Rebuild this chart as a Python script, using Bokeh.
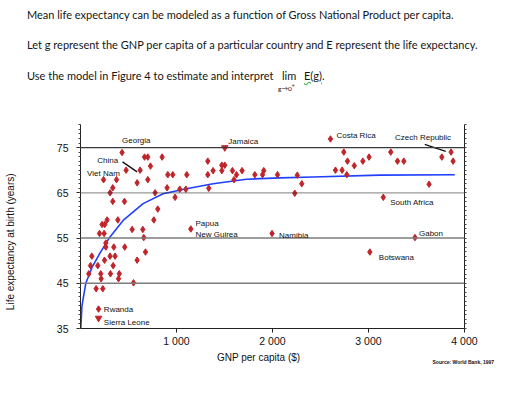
import math
from bokeh.plotting import figure
from bokeh.models import Range1d, FixedTicker, LinearAxis, Span, Label, ColumnDataSource, Title, Div
from bokeh.layouts import column
from bokeh.embed import file_html
from bokeh.resources import INLINE

# ---------------- data ----------------
# labelled countries
country_names = ["Georgia", "China", "Viet Nam", "Jamaica", "Costa Rica", "Czech Republic",
                 "South Africa", "Gabon", "Botswana", "Papua\nNew Guirea", "Namibia",
                 "Rwanda", "Sierra Leone"]
country_gnp = [433, 621, 240, 1503, 2604, 3860, 3154, 3484, 3014, 1149, 1995, 188, 188]
country_life = [73.9, 70.0, 67.9, 75.0, 76.9, 74.0, 64.0, 55.1, 51.9, 57.0, 56.0, 39.3, 37.3]
country_marker = ["diamond", "diamond", "diamond", "inverted_triangle", "diamond", "diamond",
                  "diamond", "diamond", "diamond", "diamond", "diamond", "diamond",
                  "inverted_triangle"]

# other countries
other_gnp = [667, 701, 850, 729, 475, 909, 961, 1107, 375, 590, 701, 336, 308, 777, 902, 985,
             336, 458, 805, 764, 277, 389, 225, 253, 538, 649, 198, 246, 659, 264, 264, 347,
             461, 677, 118, 308, 360, 250, 590, 104, 180, 340, 86, 211, 312, 404, 215, 396,
             163, 232, 552, 1034, 1097, 1326, 1326, 1381, 1472, 1503, 1472, 1336, 1583, 1625,
             1599, 1683, 1816, 1896, 1909, 2052, 2258, 2232, 2305, 2743, 2781, 2656, 2725,
             2774, 2852, 2941, 3006, 3232, 3302, 3368, 3764, 3881, 3631]
other_life = [72.9, 72.9, 72.9, 70.9, 70.0, 69.0, 69.0, 69.0, 67.9, 67.2, 67.9, 66.1, 65.0,
              65.0, 66.1, 64.0, 63.1, 63.1, 61.4, 59.0, 59.0, 59.0, 58.0, 58.0, 56.9, 56.9,
              56.0, 56.0, 55.1, 53.9, 53.0, 53.0, 53.0, 51.9, 51.0, 51.0, 51.0, 50.1, 50.1,
              48.9, 48.9, 48.9, 47.1, 47.1, 47.1, 47.1, 46.0, 46.0, 43.8, 43.8, 45.1, 65.8,
              65.8, 72.0, 69.0, 69.9, 71.1, 71.1, 69.9, 66.0, 69.9, 69.0, 67.9, 69.9, 69.0,
              69.0, 69.9, 69.0, 68.9, 64.9, 67.0, 74.0, 72.0, 70.0, 70.0, 69.0, 71.0, 72.0,
              72.9, 74.0, 72.0, 72.0, 72.9, 72.0, 66.9]

# fitted model curve
curve_gnp = [3, 15, 55, 120, 201, 305, 444, 652, 860, 1104, 1381, 1729, 2076, 2423, 3118, 3899]
curve_life = [35.0, 40.0, 45.0, 48.5, 51.6, 55.2, 58.9, 62.6, 64.8, 65.9, 67.0, 68.0, 68.3,
              68.5, 68.9, 69.0]

x_ticks = [1000, 2000, 3000, 4000]
x_tick_labels = ["1 000", "2 000", "3 000", "4 000"]
y_ticks = [35, 45, 55, 65, 75]

question_lines = [
    "Mean life expectancy can be modeled as a function of Gross National Product per capita.",
    "Let g represent the GNP per capita of a particular country and E represent the life expectancy.",
    "Use the model in Figure 4 to estimate and interpret",
]

# ---------------- layout ----------------
X0, X1, Y0, Y1 = 0, 4000, 35, 80.1
W = 520
DIV_H = 108
FW, FH = 384, 204
BL, BT = 80, 16
H = 386 - DIV_H
PXX = FW / (X1 - X0)
PXY = FH / (Y1 - Y0)

RED = "#c0252b"
FONT = "Liberation Sans"
NB = "\u00a0"

# ---------------- question text ----------------
tops = [8, 38, 69]
spans = "".join(
    f'<span style="position:absolute;left:27px;top:{t}px;white-space:nowrap;">{s}</span>'
    for s, t in zip(question_lines, tops))
spans += ('<span style="position:absolute;left:282px;top:69px;white-space:nowrap;">lim</span>'
          '<span style="position:absolute;left:304px;top:69px;white-space:nowrap;">'
          '<span style="text-decoration:underline wavy #3fae49;">E(g)</span>.</span>'
          '<span style="position:absolute;left:278px;top:82px;font-size:6.5px;line-height:8px;'
          'white-space:nowrap;">g\u21920<sup style="font-size:5px">+</sup></span>')
html = (f'<div style="position:relative;width:{W}px;height:{DIV_H}px;font-family:Lato,sans-serif;'
        f'font-size:11px;line-height:14px;color:#151515;">{spans}</div>')
div = Div(text=html, width=W, height=DIV_H, margin=0)

# ---------------- chart ----------------
p = figure(width=W, height=H, x_range=Range1d(X0, X1), y_range=Range1d(Y0, Y1),
           output_backend="svg", toolbar_location=None, margin=0,
           min_border_left=BL, min_border_right=W - BL - FW,
           min_border_top=BT, min_border_bottom=H - BT - FH)
p.outline_line_color = None
p.xgrid.visible = False
p.ygrid.visible = False
p.background_fill_color = "white"
p.border_fill_color = "white"

# x axis
xa = p.xaxis[0]
xa.ticker = FixedTicker(ticks=x_ticks)
xa.major_label_overrides = {t: l for t, l in zip(x_ticks, x_tick_labels)}
xa.major_tick_out = 4
xa.major_tick_in = 0
xa.minor_tick_out = 0
xa.minor_tick_in = 0
xa.axis_line_color = "#222222"
xa.major_tick_line_color = "#222222"
xa.major_label_text_font = FONT
xa.major_label_text_font_size = "10.5px"
xa.major_label_text_color = "#111111"
xa.major_label_standoff = 2
xa.axis_label = "GNP per capita ($)" + NB * 10
xa.axis_label_text_font = FONT
xa.axis_label_text_font_size = "10px"
xa.axis_label_text_font_style = "normal"
xa.axis_label_text_color = "#111111"
xa.axis_label_standoff = 2

# y axis
ya = p.yaxis[0]
ya.ticker = FixedTicker(ticks=y_ticks, minor_ticks=list(range(35, 81)))
ya.major_tick_out = 4
ya.major_tick_in = 0
ya.minor_tick_out = 2
ya.minor_tick_in = 0
ya.axis_line_color = "#222222"
ya.major_tick_line_color = "#222222"
ya.minor_tick_line_color = "#444444"
ya.major_label_text_font = FONT
ya.major_label_text_font_size = "10.5px"
ya.major_label_text_color = "#111111"
ya.major_label_standoff = 8
ya.axis_label = "Life expectancy at birth (years)" + NB * 11
ya.axis_label_text_font = FONT
ya.axis_label_text_font_size = "10px"
ya.axis_label_text_font_style = "normal"
ya.axis_label_text_color = "#111111"
ya.axis_label_standoff = 38

# right frame axis: line and small ticks only
ra = LinearAxis(ticker=FixedTicker(ticks=[], minor_ticks=list(range(35, 81))),
                major_tick_out=0, major_tick_in=0, minor_tick_out=2, minor_tick_in=0,
                axis_line_color="#222222", minor_tick_line_color="#444444")
p.add_layout(ra, "right")

p.add_layout(Title(text="Source: World Bank, 1997", align="left", offset=352,
                   vertical_align="top", text_font=FONT, text_font_size="5px",
                   text_font_style="bold", text_color="#111111", standoff=-14), "below")

# reference lines
p.add_layout(Span(location=75, dimension="width", line_color="#3a3a3a", line_width=1.2))
p.add_layout(Span(location=65, dimension="width", line_color="#333333", line_width=1.2,
                  line_dash="1 1"))
p.add_layout(Span(location=55, dimension="width", line_color="#7d7d7d", line_width=1.6))
p.add_layout(Span(location=45, dimension="width", line_color="#7d7d7d", line_width=1.6))

# model curve
p.line(curve_gnp, curve_life, line_color="#1f40ff", line_width=1.6)

# points
p.scatter(other_gnp, other_life, marker="diamond", size=6.5, color=RED)
p.scatter(source=ColumnDataSource(dict(x=country_gnp, y=country_life, m=country_marker)),
          x="x", y="y", marker="m", size=6.5, color=RED)

# country labels: (dx, dy) in pixels from the point, alignment
label_style = {
    "Georgia": (0, 12, "left"),
    "China": (-22, 9.5, "right"),
    "Viet Nam": (-16.5, 6, "left"),
    "Jamaica": (3.5, 6.5, "left"),
    "Costa Rica": (6, 3, "left"),
    "Czech Republic": (-56, 15, "left"),
    "South Africa": (7, -4.7, "left"),
    "Gabon": (4, 4, "left"),
    "Botswana": (9, -5.6, "left"),
    "Namibia": (7, -2, "left"),
    "Rwanda": (5.3, 0, "left"),
    "Sierra Leone": (5.3, -4, "left"),
}
for name, gx, ly in zip(country_names, country_gnp, country_life):
    if name.startswith("Papua"):
        for txt, dy in (("Papua", 5.2), ("New Guirea", -5.5)):
            p.add_layout(Label(x=gx, y=ly, x_offset=4.7, y_offset=dy, text=txt,
                               text_font=FONT, text_font_size="8px", text_color="#111111",
                               text_align="left", text_baseline="middle"))
        continue
    dx, dy, al = label_style[name]
    p.add_layout(Label(x=gx, y=ly, x_offset=dx, y_offset=dy, text=name,
                       text_font=FONT, text_font_size="8px", text_color="#111111",
                       text_align=al, text_baseline="middle"))

# leader lines (pixel offsets from their points)
lead = {"China": ((-17.6, 8.3), (-3, -1.7)), "Czech Republic": ((-26.3, 7.7), (-5.3, 0.7))}
for name, ((ax, ay), (bx, by)) in lead.items():
    i = country_names.index(name)
    gx, ly = country_gnp[i], country_life[i]
    p.segment(x0=[gx + ax / PXX], y0=[ly + ay / PXY], x1=[gx + bx / PXX], y1=[ly + by / PXY],
              line_color="#111111", line_width=1.3)

layout = column(div, p, spacing=0)
open("out.html", "w").write(file_html(layout, INLINE))
